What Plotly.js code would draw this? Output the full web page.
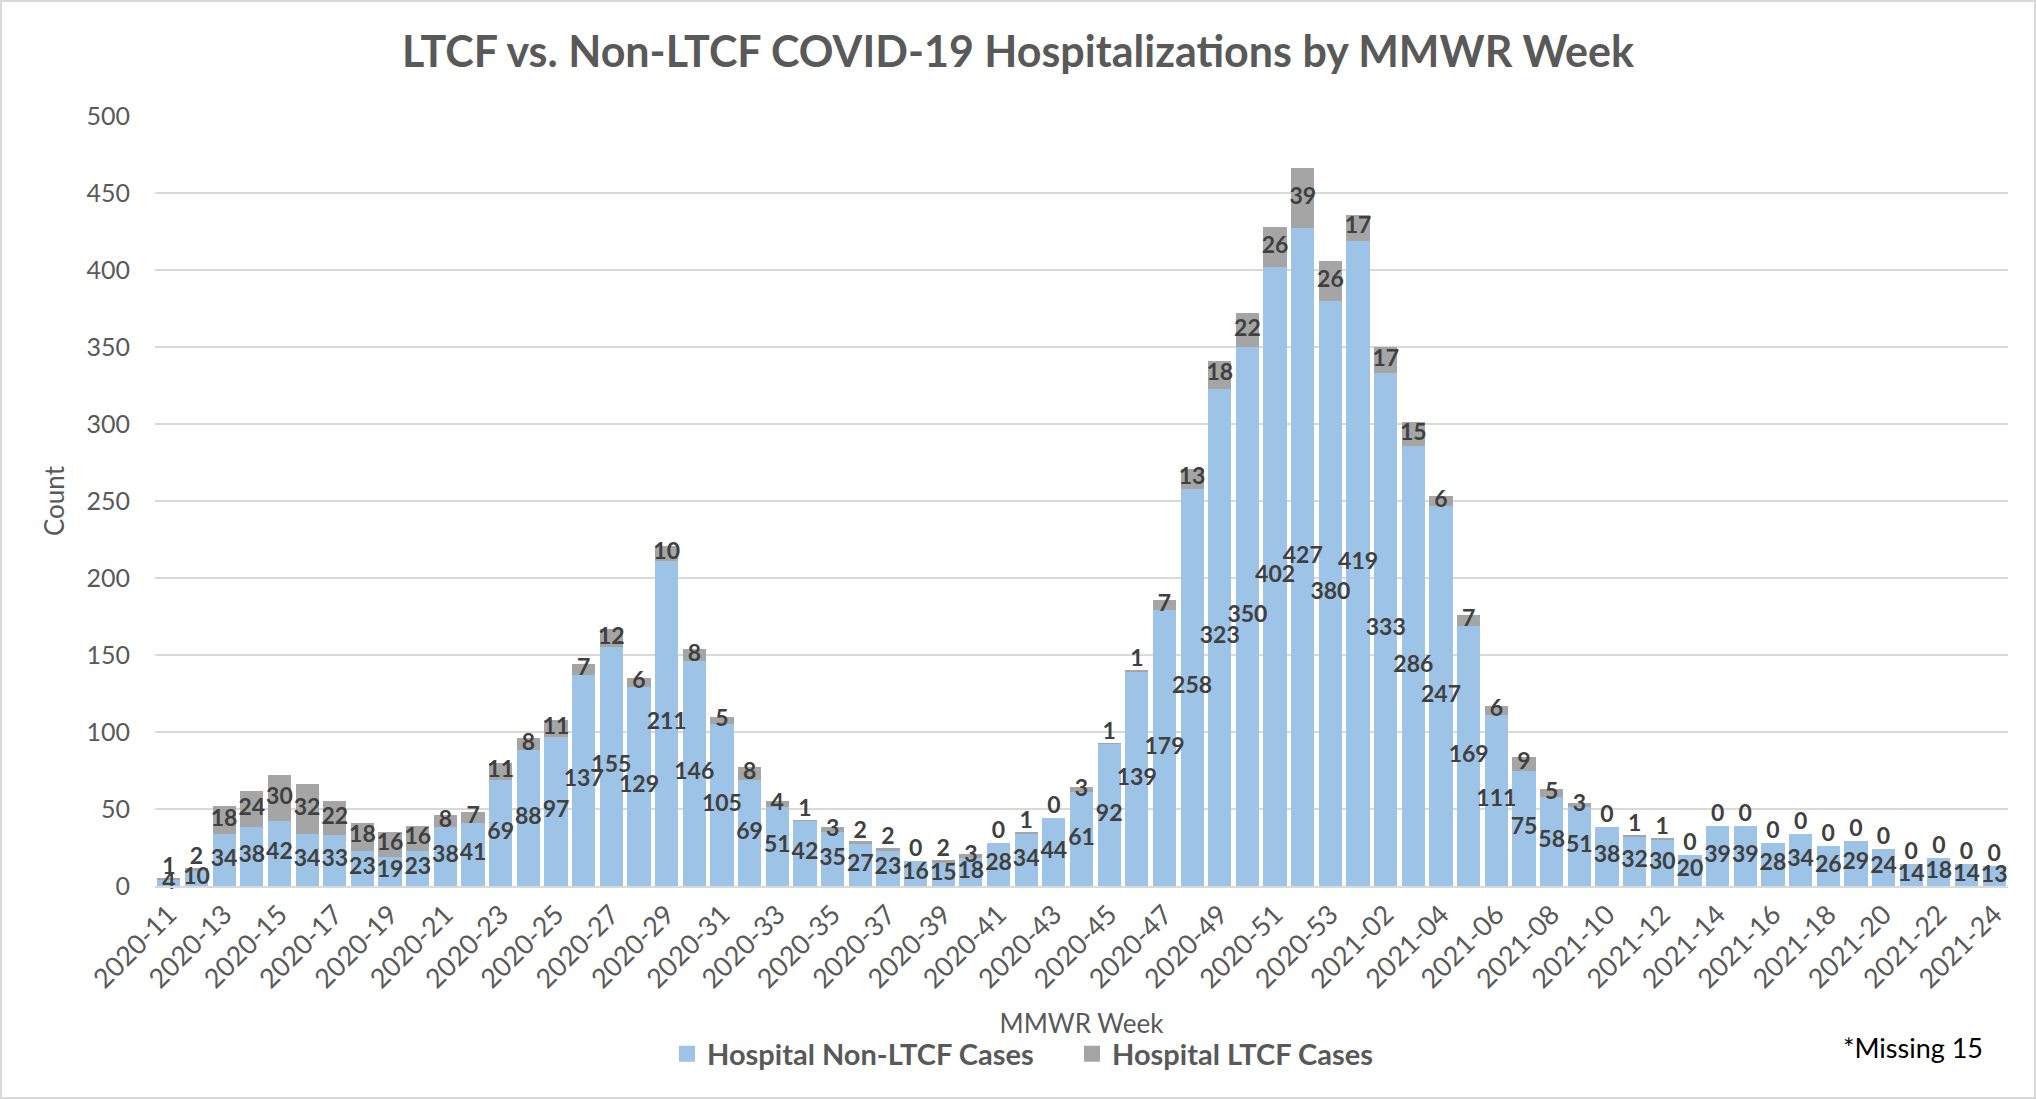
<!DOCTYPE html>
<html>
<head>
<meta charset="utf-8">
<script src="https://cdn.plot.ly/plotly-3.0.1.min.js"></script>
<style>
  html, body { margin: 0; padding: 0; background: #fff; }
  #wrap { position: relative; width: 2036px; height: 1099px; }
  #chart { width: 2036px; height: 1099px; }
  #frame { position: absolute; left: 0; top: 0; width: 2036px; height: 1099px; box-sizing: border-box; border: 2px solid #D9D9D9; pointer-events: none; }
</style>
</head>
<body>
<div id="wrap"><div id="chart"></div><div id="frame"></div></div>
<script>
// MMWR weeks 2020-11 .. 2020-53, 2021-01 .. 2021-24
const weeks = [
  "2020-11","2020-12","2020-13","2020-14","2020-15","2020-16","2020-17","2020-18","2020-19","2020-20",
  "2020-21","2020-22","2020-23","2020-24","2020-25","2020-26","2020-27","2020-28","2020-29","2020-30",
  "2020-31","2020-32","2020-33","2020-34","2020-35","2020-36","2020-37","2020-38","2020-39","2020-40",
  "2020-41","2020-42","2020-43","2020-44","2020-45","2020-46","2020-47","2020-48","2020-49","2020-50",
  "2020-51","2020-52","2020-53","2021-01","2021-02","2021-03","2021-04","2021-05","2021-06","2021-07",
  "2021-08","2021-09","2021-10","2021-11","2021-12","2021-13","2021-14","2021-15","2021-16","2021-17",
  "2021-18","2021-19","2021-20","2021-21","2021-22","2021-23","2021-24"
];

const nonLtcf = [
  4,10,34,38,42,34,33,23,19,23,
  38,41,69,88,97,137,155,129,211,146,
  105,69,51,42,35,27,23,16,15,18,
  28,34,44,61,92,139,179,258,323,350,
  402,427,380,419,333,286,247,169,111,75,
  58,51,38,32,30,20,39,39,28,34,
  26,29,24,14,18,14,13
];

const ltcf = [
  1,2,18,24,30,32,22,18,16,16,
  8,7,11,8,11,7,12,6,10,8,
  5,8,4,1,3,2,2,0,2,3,
  0,1,0,3,1,1,7,13,18,22,
  26,39,26,17,17,15,6,7,6,9,
  5,3,0,1,1,0,0,0,0,0,
  0,0,0,0,0,0,0
];

const seriesNames = ["Hospital Non-LTCF Cases", "Hospital LTCF Cases"];
const chartTitle = "LTCF vs. Non-LTCF COVID-19 Hospitalizations by MMWR Week";
const xTitle = "MMWR Week";
const yTitle = "Count";
const footNote = "*Missing 15";

const BLUE = "#9DC3E6";
const GRAY = "#A5A5A5";
const LABEL = "#404040";
const AXISTXT = "#595959";
const FONT = "Lato, 'Open Sans', sans-serif";

// layout geometry (pixels)
const W = 2036, H = 1099;
const mL = 155, mR = 28, mT = 116, mB = 213;
const plotW = W - mL - mR, plotH = H - mT - mB;

const traces = [
  {
    type: "bar", x: weeks, y: nonLtcf, name: seriesNames[0], showlegend: false,
    marker: { color: BLUE, line: { width: 0 } }, hoverinfo: "skip"
  },
  {
    type: "bar", x: weeks, y: ltcf, name: seriesNames[1], showlegend: false,
    marker: { color: GRAY, line: { width: 0 } }, hoverinfo: "skip"
  },
  {
    type: "scatter", mode: "text", x: weeks,
    y: nonLtcf.map(v => v / 2),
    text: nonLtcf.map(String),
    textposition: "middle center",
    textfont: { family: FONT, size: 23, color: LABEL, weight: "bold" },
    showlegend: false, hoverinfo: "skip", cliponaxis: false
  },
  {
    type: "scatter", mode: "text", x: weeks,
    y: ltcf.map((v, i) => nonLtcf[i] + v / 2 + (v < 3 ? 7 : 0)),
    text: ltcf.map(String),
    textposition: "middle center",
    textfont: { family: FONT, size: 23, color: LABEL, weight: "bold" },
    showlegend: false, hoverinfo: "skip", cliponaxis: false
  },
  // legend entries (square swatches)
  {
    type: "scatter", mode: "markers", x: [null], y: [null], name: seriesNames[0],
    marker: { symbol: "square", size: 16, color: BLUE, line: { width: 0 } }, hoverinfo: "skip"
  },
  {
    type: "scatter", mode: "markers", x: [null], y: [null], name: seriesNames[1],
    marker: { symbol: "square", size: 16, color: GRAY, line: { width: 0 } }, hoverinfo: "skip"
  }
];

const layout = {
  width: W, height: H,
  margin: { l: mL, r: mR, t: mT, b: mB, pad: 0 },
  paper_bgcolor: "#ffffff", plot_bgcolor: "#ffffff",
  barmode: "stack", bargap: 0.16,
  font: { family: FONT, color: AXISTXT },
  title: {
    text: chartTitle,
    font: { family: FONT, size: 43, color: AXISTXT, weight: "bold" },
    x: 0.5, xref: "container", xanchor: "center",
    y: 1 - 52 / H, yref: "container", yanchor: "middle"
  },
  xaxis: {
    type: "category",
    range: [-0.5, weeks.length - 0.5],
    autorange: false,
    tickmode: "array",
    tickvals: weeks.filter((w, i) => i % 2 === 0),
    ticktext: weeks.filter((w, i) => i % 2 === 0),
    tickangle: -45,
    tickfont: { family: FONT, size: 27, color: AXISTXT },
    ticks: "", showgrid: false, showline: true, linecolor: "#D9D9D9", linewidth: 2,
    title: { text: xTitle, font: { family: FONT, size: 26, color: AXISTXT }, standoff: 22 },
    automargin: false
  },
  yaxis: {
    range: [0, 500], autorange: false, dtick: 50, tick0: 0,
    tickfont: { family: FONT, size: 25, color: AXISTXT },
    ticks: "", ticklabelstandoff: 24,
    showgrid: true, gridcolor: "#D9D9D9", gridwidth: 2,
    zeroline: false, showline: false,
    title: { text: yTitle, font: { family: FONT, size: 26, color: AXISTXT }, standoff: 14 },
    automargin: false
  },
  legend: {
    orientation: "h",
    x: (667 - mL) / plotW, xanchor: "left",
    y: -(1054 - (H - mB)) / plotH, yanchor: "middle",
    font: { family: FONT, size: 29, color: AXISTXT, weight: "bold" },
    traceorder: "normal", itemwidth: 30, itemsizing: "trace",
    entrywidth: 360
  },
  annotations: [
    {
      text: footNote, xref: "paper", yref: "paper",
      x: (1913 - mL) / plotW, y: -(1047 - (H - mB)) / plotH,
      xanchor: "center", yanchor: "middle", showarrow: false,
      font: { family: FONT, size: 27, color: "#000000" }
    }
  ],
  showlegend: true
};

Plotly.newPlot("chart", traces, layout, { displayModeBar: false, staticPlot: true });
</script>
</body>
</html>
